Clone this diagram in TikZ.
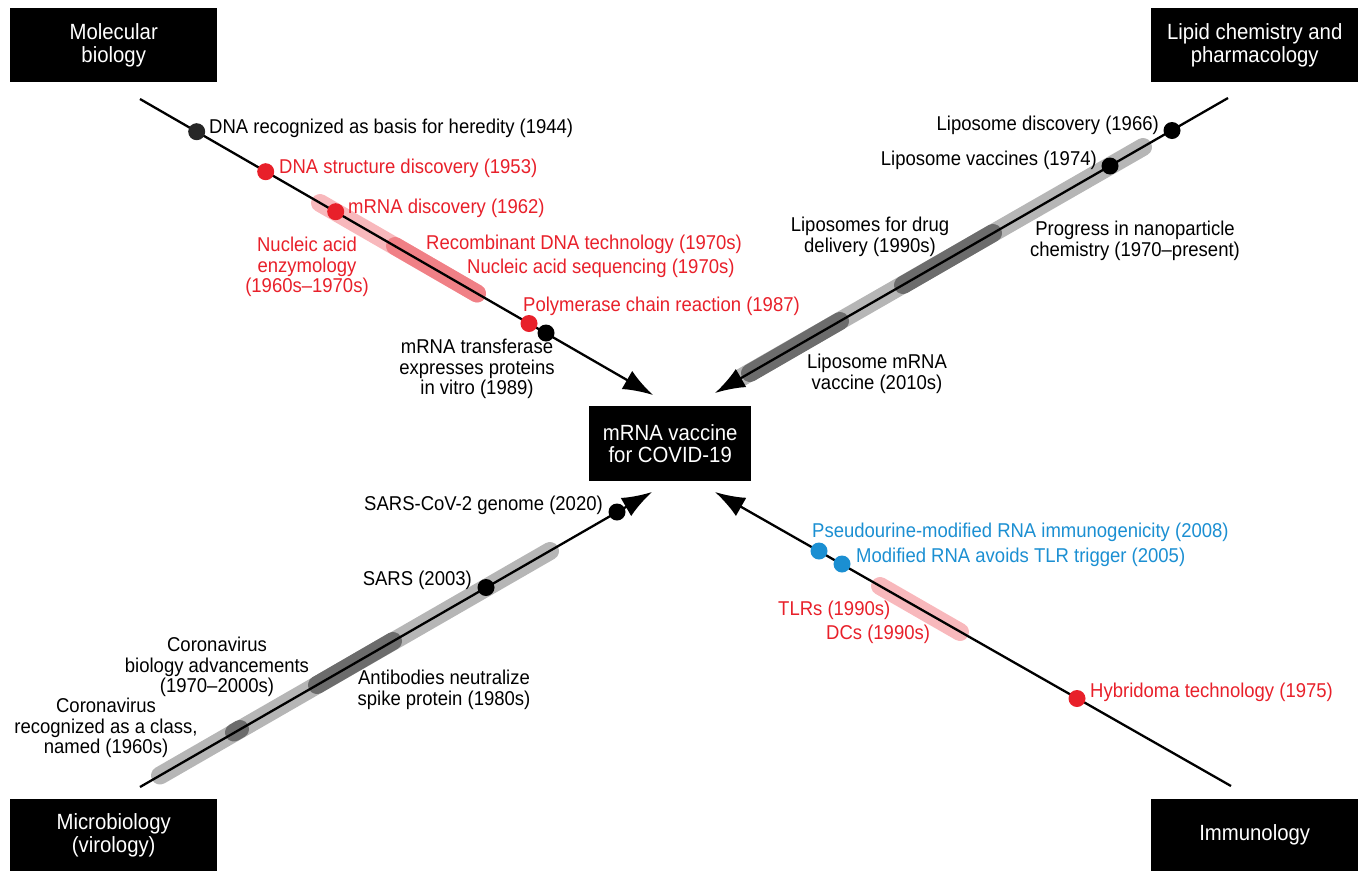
\documentclass[tikz,border=0pt]{standalone}
\usepackage{fontspec}
\setmainfont{Liberation Sans}[FakeStretch=0.925]
\usetikzlibrary{arrows.meta}
\definecolor{vred}{RGB}{232,32,42}
\definecolor{vblue}{RGB}{27,143,210}
\definecolor{pinkA}{RGB}{248,184,188}
\definecolor{pinkB}{RGB}{240,128,134}
\definecolor{grayA}{RGB}{182,182,182}
\definecolor{grayB}{RGB}{108,108,108}
\begin{document}
\begin{tikzpicture}[x=1pt,y=-1pt,
  lbl/.style={inner sep=0pt, font=\fontsize{20}{20.5}\selectfont, align=center},
  boxtxt/.style={fill=black, text=white, inner sep=0pt, font=\fontsize{22}{22.5}\selectfont, align=center},
  tdot/.style={circle, fill=#1, minimum size=17pt, inner sep=0pt},
  tl/.style={line width=2.3pt, -{Latex[length=30pt,width=21pt]}},
  band/.style={line width=18pt, line cap=round, draw=#1},
]
\useasboundingbox (0,0) rectangle (1362,871);

% corner boxes
\node[boxtxt, anchor=north west, minimum width=207pt, minimum height=74pt] (mb) at (10,8) {Molecular\\biology};
\node[boxtxt, anchor=north west, minimum width=207pt, minimum height=74pt] (lc) at (1151,8) {Lipid chemistry and\\pharmacology};
\node[boxtxt, anchor=north west, minimum width=207pt, minimum height=72pt] (mv) at (10,799) {Microbiology\\(virology)};
\node[boxtxt, anchor=north west, minimum width=207pt, minimum height=72pt] (im) at (1151,799) {Immunology};
\node[boxtxt, anchor=north west, minimum width=162pt, minimum height=75pt] (vac) at (589,406) {mRNA vaccine\\for COVID-19};

% bands
\draw[band=pinkA] (320,203) -- (477,293.5);
\draw[band=pinkB] (395,246) -- (477,293.5);
\draw[band=grayA] (1143,147) -- (742,377);
\draw[band=grayB] (993,233) -- (903,285);
\draw[band=grayB] (840,321) -- (750,373);
\draw[band=grayA] (160,775.5) -- (550,551);
\draw[band=grayB] (234,732.5) -- (240,729);
\draw[band=grayB] (317,685) -- (393,641);
\draw[band=pinkA] (880,586) -- (960,632);

% timelines
\coordinate (m0) at (140,99);   \coordinate (m1) at (653,395);
\coordinate (l0) at (1228,98);  \coordinate (l1) at (715,393);
\coordinate (v0) at (140,787);  \coordinate (v1) at (652,492);
\coordinate (i0) at (1231,786); \coordinate (i1) at (715,492);
\draw[tl] (m0) -- (m1);
\draw[tl] (l0) -- (l1);
\draw[tl] (v0) -- (v1);
\draw[tl] (i0) -- (i1);

% molecular biology
\node[tdot=black!85] (d1) at (196.7,131.7) {};
\node[tdot=vred] (d2) at (265.7,171.7) {};
\node[tdot=vred] (d3) at (335.7,211.7) {};
\node[tdot=vred] (d4) at (529,323.5) {};
\node[tdot=black] (d5) at (546,333) {};
\node[lbl, anchor=west] (t1) at (209,128) {DNA recognized as basis for heredity (1944)};
\node[lbl, anchor=west, text=vred] (t2) at (279,168) {DNA structure discovery (1953)};
\node[lbl, anchor=west, text=vred] (t3) at (348,208) {mRNA discovery (1962)};
\node[lbl, text=vred] (t4) at (307,267) {Nucleic acid\\enzymology\\(1960s--1970s)};
\node[lbl, anchor=west, text=vred] (t5) at (426,244) {Recombinant DNA technology (1970s)};
\node[lbl, anchor=west, text=vred] (t6) at (467,268) {Nucleic acid sequencing (1970s)};
\node[lbl, anchor=west, text=vred] (t7) at (523,306) {Polymerase chain reaction (1987)};
\node[lbl] (t8) at (477,369) {mRNA transferase\\expresses proteins\\in vitro (1989)};

% lipid chemistry
\node[tdot=black] (e1) at (1172,130.5) {};
\node[tdot=black] (e2) at (1110,166) {};
\node[lbl, anchor=east] (u1) at (1159,125) {Liposome discovery (1966)};
\node[lbl, anchor=east] (u2) at (1097,160) {Liposome vaccines (1974)};
\node[lbl] (u3) at (870,237) {Liposomes for drug\\delivery (1990s)};
\node[lbl] (u4) at (1135,241) {Progress in nanoparticle\\chemistry (1970--present)};
\node[lbl] (u5) at (877,374) {Liposome mRNA\\vaccine (2010s)};

% microbiology
\node[tdot=black] (f1) at (617,512) {};
\node[tdot=black] (f2) at (486,587.5) {};
\node[lbl, anchor=east] (w1) at (603,505) {SARS-CoV-2 genome (2020)};
\node[lbl, anchor=east] (w2) at (472,580) {SARS (2003)};
\node[lbl] (w3) at (217,667) {Coronavirus\\biology advancements\\(1970--2000s)};
\node[lbl] (w4) at (444,690) {Antibodies neutralize\\spike protein (1980s)};
\node[lbl] (w5) at (106,728) {Coronavirus\\recognized as a class,\\named (1960s)};

% immunology
\node[tdot=vblue] (g1) at (819,551) {};
\node[tdot=vblue] (g2) at (842,564) {};
\node[tdot=vred] (g3) at (1077,698.5) {};
\node[lbl, anchor=west, text=vblue] (z1) at (812,532) {Pseudourine-modified RNA immunogenicity (2008)};
\node[lbl, anchor=west, text=vblue] (z2) at (856,557) {Modified RNA avoids TLR trigger (2005)};
\node[lbl, anchor=west, text=vred] (z3) at (778,610) {TLRs (1990s)};
\node[lbl, anchor=west, text=vred] (z4) at (826,634) {DCs (1990s)};
\node[lbl, anchor=west, text=vred] (z5) at (1090,692) {Hybridoma technology (1975)};
\end{tikzpicture}
\end{document}
